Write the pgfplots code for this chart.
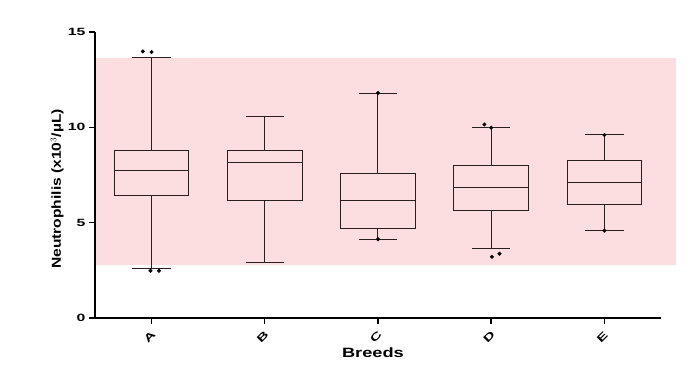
\documentclass[border=0pt]{standalone}
\usepackage{pgfplots}
\pgfplotsset{compat=1.18}
\usepgfplotslibrary{statistics}
\usepackage{fontspec}
\setmainfont{Liberation Sans}
\newfontfamily\tickfont[FakeStretch=1.5]{Liberation Sans}
\newfontfamily\labfont[FakeStretch=1.35]{Liberation Sans}
\newfontfamily\ylabfont[FakeStretch=1.2]{Liberation Sans}
\definecolor{band}{RGB}{253,222,224}
\definecolor{boxline}{RGB}{45,30,30}
\begin{document}
\begin{tikzpicture}
\begin{axis}[
  scale only axis,
  width=566pt, height=286pt,
  xmin=-0.5, xmax=4.5, ymin=0, ymax=15,
  clip=false,
  axis x line=bottom, axis y line=left,
  axis line style={-, line width=1.6pt, black},
  xtick={0,1,2,3,4},
  xticklabels={A,B,C,D,E},
  ytick={0,5,10,15},
  tick align=outside,
  major tick length=6pt,
  every tick/.style={black, line width=1.4pt},
  /pgf/number format/assume math mode=true,
  yticklabel style={font=\fontsize{10.5}{12}\tickfont\bfseries},
  xticklabel style={font=\fontsize{10.5}{12}\tickfont\bfseries, rotate=45, anchor=center, xshift=-10.6pt, yshift=-7.6pt},
  ylabel={Neutrophilis (x10$^{3}$/\textmu L)},
  xlabel={Breeds},
  every axis y label/.style={at={(axis description cs:-0.067,0.451)}, rotate=90, anchor=center, font=\fontsize{13}{14}\ylabfont\bfseries},
  every axis x label/.style={at={(axis description cs:0.491,-0.12)}, anchor=center, font=\fontsize{13.5}{14}\labfont\bfseries},
  boxplot/draw direction=y,
  boxplot/box extend=0.66,
  boxplot/whisker extend=0.34,
  boxplot/every box/.style={draw=boxline, line width=1pt, fill=none},
  boxplot/every whisker/.style={draw=boxline, line width=1pt},
  boxplot/every median/.style={draw=boxline, line width=1pt},
]
% reference band
\addplot[fill=band, draw=none, forget plot] coordinates {(-0.487,2.78) (4.63,2.78) (4.63,13.63) (-0.487,13.63)} -- cycle;

\addplot[boxplot prepared={draw position=0, lower whisker=2.6, lower quartile=6.45, median=7.74, upper quartile=8.81, upper whisker=13.65}] coordinates {};
\addplot[boxplot prepared={draw position=1, lower whisker=2.9, lower quartile=6.14, median=8.16, upper quartile=8.77, upper whisker=10.59}] coordinates {};
\addplot[boxplot prepared={draw position=2, lower whisker=4.13, lower quartile=4.68, median=6.17, upper quartile=7.57, upper whisker=11.8}] coordinates {};
\addplot[boxplot prepared={draw position=3, lower whisker=3.62, lower quartile=5.65, median=6.83, upper quartile=8.02, upper whisker=9.98}] coordinates {};
\addplot[boxplot prepared={draw position=4, lower whisker=4.58, lower quartile=5.93, median=7.10, upper quartile=8.25, upper whisker=9.60}] coordinates {};

% points
\addplot[only marks, mark=*, mark size=1.8pt, black] coordinates {
 (-0.077,13.98) (0,13.95) (-0.01,2.48) (0.065,2.48)
 (2,11.8) (2,4.13)
 (2.94,10.15) (3,9.98) (3.006,3.21) (3.073,3.37)
 (4,9.6) (4,4.58)
};
\end{axis}
\path ([shift={(-95pt,-62pt)}]current axis.south west) rectangle ++(699pt,380pt);
\end{tikzpicture}
\end{document}
